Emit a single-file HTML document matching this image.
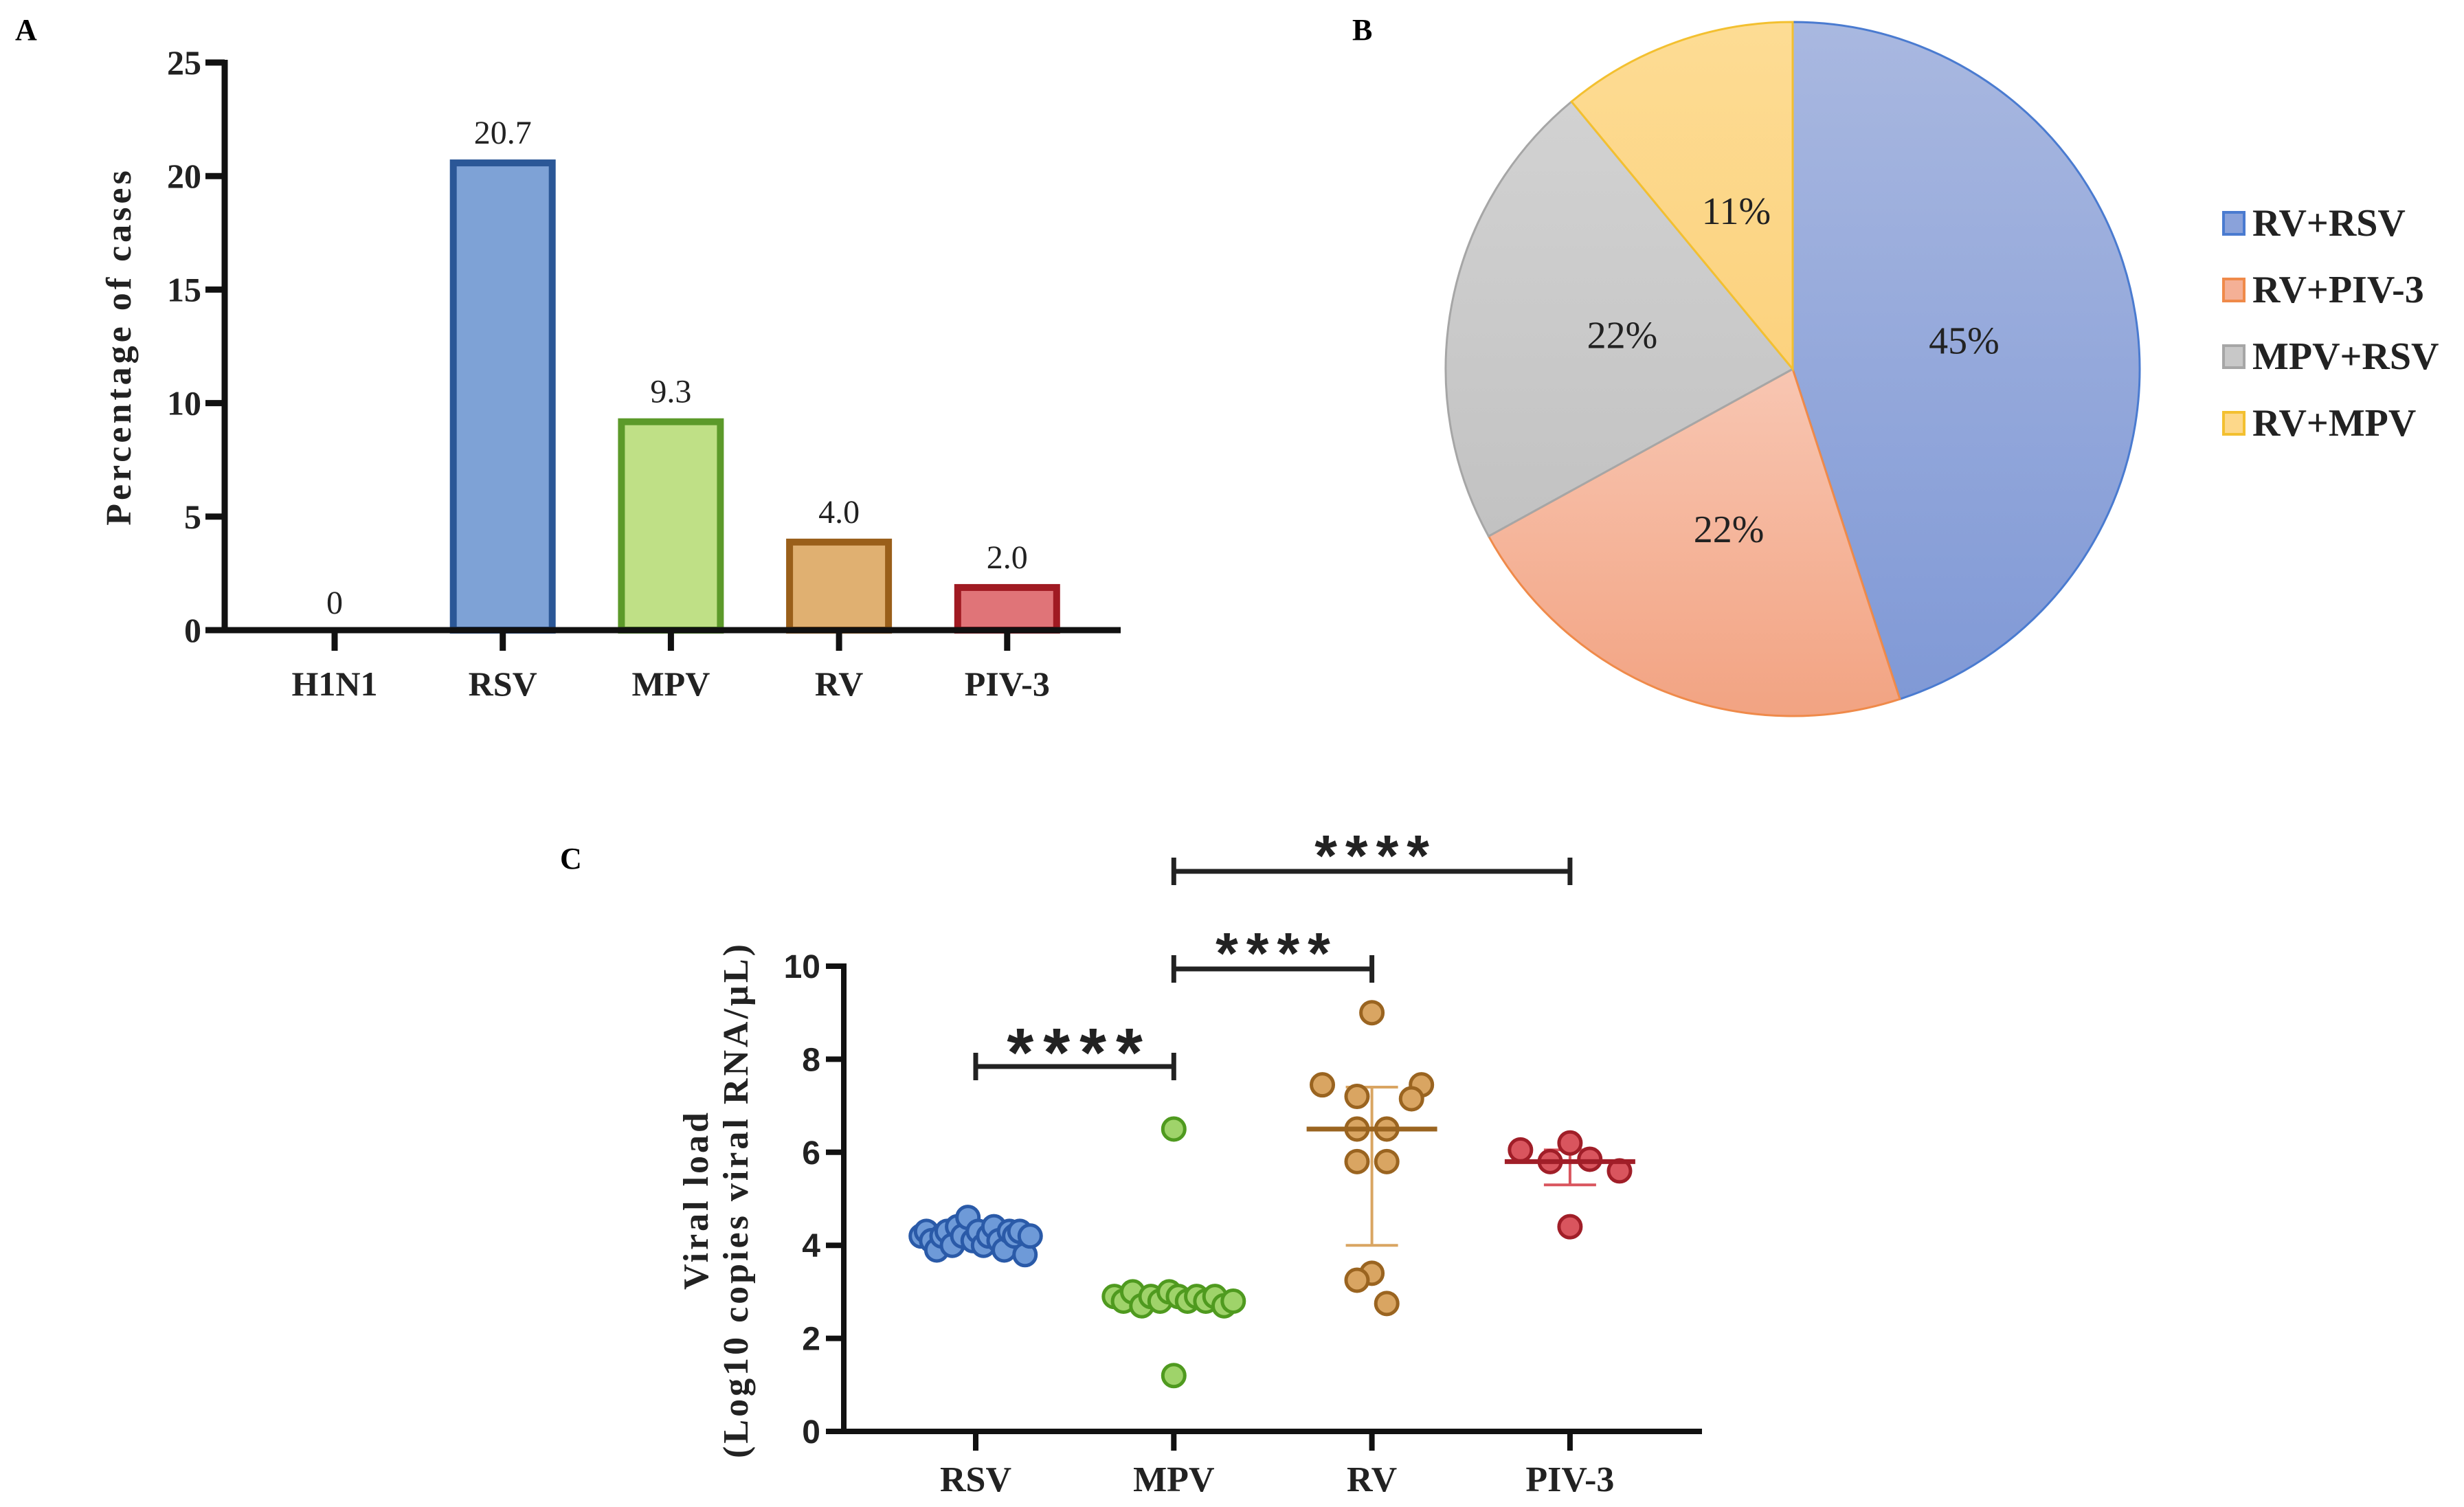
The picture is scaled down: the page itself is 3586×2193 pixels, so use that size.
<!DOCTYPE html>
<html><head><meta charset="utf-8"><style>
html,body{margin:0;padding:0;background:#fff}
svg{display:block}
</style></head><body>
<svg id="fig" width="3586" height="2193" viewBox="0 0 3586 2193" xmlns="http://www.w3.org/2000/svg" font-family="'Liberation Serif', serif">
<defs>
<linearGradient id="gBlue" x1="0" y1="0" x2="0" y2="1"><stop offset="0" stop-color="#a9b8e0"/><stop offset="1" stop-color="#8099d6"/></linearGradient>
<linearGradient id="gOrange" x1="0" y1="0" x2="0" y2="1"><stop offset="0" stop-color="#f8c6b2"/><stop offset="1" stop-color="#f2a382"/></linearGradient>
<linearGradient id="gGray" x1="0" y1="0" x2="0" y2="1"><stop offset="0" stop-color="#d2d2d2"/><stop offset="1" stop-color="#c2c2c2"/></linearGradient>
<linearGradient id="gYellow" x1="0" y1="0" x2="0" y2="1"><stop offset="0" stop-color="#fddc94"/><stop offset="1" stop-color="#fcd27e"/></linearGradient>
</defs>
<g id="pa"></g>
<g id="pb"></g>
<g id="pc"></g>
</svg>
<script>
// Panel A data
const barCats = ["H1N1","RSV","MPV","RV","PIV-3"];
const barVals = [0,20.7,9.3,4.0,2.0];
const barLabels = ["0","20.7","9.3","4.0","2.0"];
const barTicks = [0,5,10,15,20,25];
// Panel B data
const pieCats = ["RV+RSV","RV+PIV-3","MPV+RSV","RV+MPV"];
const pieVals = [45,22,22,11];
// Panel C data
const scCats = ["RSV","MPV","RV","PIV-3"];
const rsvVals = [4.2,4.3,4.1,3.9,4.2,4.3,4.0,4.4,4.2,4.6,4.1,4.3,4.0,4.2,4.4,4.1,3.9,4.3,4.2,4.3,3.8,4.2];
const mpvVals = [2.9,2.8,3.0,2.7,2.9,2.8,3.0,2.9,2.8,2.9,2.8,2.9,2.7,2.8,6.5,1.2];
const rvVals = [9.0,7.45,7.45,7.2,7.15,6.5,6.5,5.8,5.8,3.4,3.25,2.75];
const pivVals = [6.05,6.2,5.85,5.8,5.6,4.4];
const rvStats = [6.5,4.0,7.4];
const pivStats = [5.8,5.3,6.05];
const scTicks = [0,2,4,6,8,10];
const sigPairs = [[0,1],[1,2],[1,3]];

const NS="http://www.w3.org/2000/svg";
const SERIF="'Liberation Serif', 'Times New Roman', serif";
const SANS="'Liberation Sans', Arial, sans-serif";
function mk(parent,tag,attrs,txt){const e=document.createElementNS(NS,tag);if(tag==='text'&&!attrs['font-family'])e.setAttribute('font-family',SERIF);for(const k in attrs)e.setAttribute(k,attrs[k]);if(txt!==undefined)e.textContent=txt;parent.appendChild(e);return e;}

// ---------- Panel A ----------
(function(){
const g=document.getElementById('pa');
const X0=327,XE=1631,Y0=917,YT=91,ymax=25;
const y=v=>Y0-(v/ymax)*(Y0-YT);
const cx=i=>487+i*244.7;
const fills=["#7ea2d6","#7ea2d6","#bfe086","#e0b071","#e07478"];
const strokes=["#2b5797","#2b5797","#5c9a2a","#9a5f1a","#a01a22"];
let t=mk(g,'text',{x:22,y:58,'font-size':44,'font-weight':'bold'},'A');

barVals.forEach((v,i)=>{
 if(v>0){const r=mk(g,'rect',{x:cx(i)-72,y:y(v)+4,width:144,height:Y0-y(v)-4,fill:fills[i],stroke:strokes[i],'stroke-width':10});
 }
 const l=mk(g,'text',{x:cx(i),y:y(v)-24,'font-size':48,'text-anchor':'middle',fill:'#222'},barLabels[i]);
 
 const tk=mk(g,'line',{x1:cx(i),x2:cx(i),y1:Y0,y2:Y0+30,stroke:'#111','stroke-width':9});
 
 const xl=mk(g,'text',{x:cx(i),y:1012,'font-size':50,'font-weight':'bold','text-anchor':'middle',fill:'#222'},barCats[i]);
 
});
barTicks.forEach(v=>{
 const tk=mk(g,'line',{x1:X0-28,x2:X0,y1:y(v),y2:y(v),stroke:'#111','stroke-width':9});
 
 const tl=mk(g,'text',{x:X0-34,y:y(v)+17,'font-size':50,'font-weight':'bold','text-anchor':'end',fill:'#222'},String(v));
 
});
const ax=mk(g,'path',{d:`M${X0} ${YT-4} V${Y0} H${XE}`,fill:'none',stroke:'#111','stroke-width':9});

const yt=mk(g,'text',{x:0,y:0,transform:`translate(190,504) rotate(-90)`,'font-size':52,'font-weight':'bold','text-anchor':'middle','letter-spacing':5,fill:'#222'},'Percentage of cases');

})();

// ---------- Panel B ----------
(function(){
const g=document.getElementById('pb');
const cx=2609,cy=537,R=505;
const fills=["url(#gBlue)","url(#gOrange)","url(#gGray)","url(#gYellow)"];
const strokes=["#4a7bd0","#ef8a4a","#a6a6a6","#f3c030"];
const sw=["#8aa2da","#f4b096","#c8c8c8","#fdd88a"];
let t=mk(g,'text',{x:1968,y:58,'font-size':44,'font-weight':'bold'},'B');

const tot=pieVals.reduce((a,b)=>a+b,0);
let a0=-Math.PI/2;
pieVals.forEach((v,i)=>{
 const a1=a0+v/tot*2*Math.PI;
 const p=(a)=>[cx+R*Math.cos(a),cy+R*Math.sin(a)];
 const [x0,y0]=p(a0),[x1,y1]=p(a1);
 const large=(a1-a0)>Math.PI?1:0;
 const s=mk(g,'path',{d:`M${cx} ${cy} L${x0} ${y0} A${R} ${R} 0 ${large} 1 ${x1} ${y1} Z`,fill:fills[i],stroke:strokes[i],'stroke-width':3});
 
 const am=(a0+a1)/2,rr=R*(v<15?0.48:0.5);
 const l=mk(g,'text',{x:cx+rr*Math.cos(am),y:cy+rr*Math.sin(am)+17,'font-size':56,'text-anchor':'middle',fill:'#222'},v+'%');
 
 a0=a1;
 const ly=343+i*97;
 const sq=mk(g,'rect',{x:3236,y:ly-34,width:30,height:32,fill:sw[i],stroke:strokes[i],'stroke-width':4});
 
 const lt=mk(g,'text',{x:3278,y:ly,'font-size':56,'font-weight':'bold',fill:'#222'},pieCats[i]);
 
});
})();

// ---------- Panel C ----------
(function(){
const g=document.getElementById('pc');
const X0=1228,XE=2477,Y0=2083,YT=1406,ymax=10;
const y=v=>Y0-(v/ymax)*(Y0-YT);
const cx=i=>1420+i*288.3;
const fill=["#6e9ad8","#9fd36a","#d9a562","#d9555e"];
const strk=["#2a5aa8","#4f9a1f","#9a6420","#a01e28"];
let t=mk(g,'text',{x:815,y:1264,'font-size':44,'font-weight':'bold'},'C');

scTicks.forEach(v=>{
 const tk=mk(g,'line',{x1:X0-26,x2:X0,y1:y(v),y2:y(v),stroke:'#111','stroke-width':8});
 
 const tl=mk(g,'text',{x:X0-34,y:y(v)+17,'font-size':48,'font-weight':'bold','text-anchor':'end',fill:'#222','font-family':SANS},String(v));
 
});
scCats.forEach((c,i)=>{
 const tk=mk(g,'line',{x1:cx(i),x2:cx(i),y1:Y0,y2:Y0+28,stroke:'#111','stroke-width':8});
 
 const xl=mk(g,'text',{x:cx(i),y:2170,'font-size':52,'font-weight':'bold','text-anchor':'middle',fill:'#222'},c);
 
});
const ax=mk(g,'path',{d:`M${X0} ${YT-4} V${Y0} H${XE}`,fill:'none',stroke:'#111','stroke-width':8});

const yt1=mk(g,'text',{transform:'translate(1030,1746) rotate(-90)','font-size':52,'font-weight':'bold','text-anchor':'middle','letter-spacing':4,fill:'#222'},'Viral load');

const yt2=mk(g,'text',{transform:'translate(1088,1746) rotate(-90)','font-size':52,'font-weight':'bold','text-anchor':'middle','letter-spacing':4,fill:'#222'},'(Log10 copies viral RNA/µL)');

[[2,rvStats],[3,pivStats]].forEach(([i,s])=>{
 const c=cx(i);
 const e=mk(g,'path',{d:`M${c} ${y(s[1])} V${y(s[2])} M${c-38} ${y(s[1])} H${c+38} M${c-38} ${y(s[2])} H${c+38}`,stroke:fill[i],'stroke-width':4,fill:'none'});
 
});
const series=[rsvVals,mpvVals,rvVals,pivVals];
const spread=[0.55,0.6,0.5,0.5];
series.forEach((vals,i)=>{
 const n=vals.length;
 vals.forEach((v,j)=>{
  let off;
  if(i===0||i===1){const m=i===1?n-2:n; off = j<m ? ((j%m)/(m-1)-0.5)*spread[i] : 0;}
  else if(i===2){const pat=[0,-0.5,0.5,-0.15,0.4,-0.15,0.15,-0.15,0.15,0,-0.15,0.15];off=pat[j%pat.length]*0.5;}
  else {const pat=[-0.5,0,0.2,-0.2,0.5,0];off=pat[j%pat.length]*0.5;}
  const c=mk(g,'circle',{cx:cx(i)+off*288.3,cy:y(v),r:16,fill:fill[i],stroke:strk[i],'stroke-width':5});
  
 });
});
[[2,rvStats],[3,pivStats]].forEach(([i,s])=>{
 const c=cx(i);
 const m=mk(g,'line',{x1:c-95,x2:c+95,y1:y(s[0]),y2:y(s[0]),stroke:strk[i],'stroke-width':7});
 
});
const brY=[1552,1410,1268], stY=[1566,1416,1274], stF=[100,84,84], stLS=[14,12,12];
sigPairs.forEach((p,k)=>{
 const a=cx(p[0]),b=cx(p[1]);
 const br=mk(g,'path',{d:`M${a} ${brY[k]-20} V${brY[k]+20} M${a} ${brY[k]} H${b} M${b} ${brY[k]-20} V${brY[k]+20}`,stroke:'#222','stroke-width':7,fill:'none'});
 
 const st=mk(g,'text',{x:(a+b)/2+stLS[k]/2,y:stY[k],'font-size':stF[k],'font-weight':'bold','text-anchor':'middle',fill:'#222','font-family':SANS,'letter-spacing':stLS[k]},'****');
 
});
})();
</script>
</body></html>
